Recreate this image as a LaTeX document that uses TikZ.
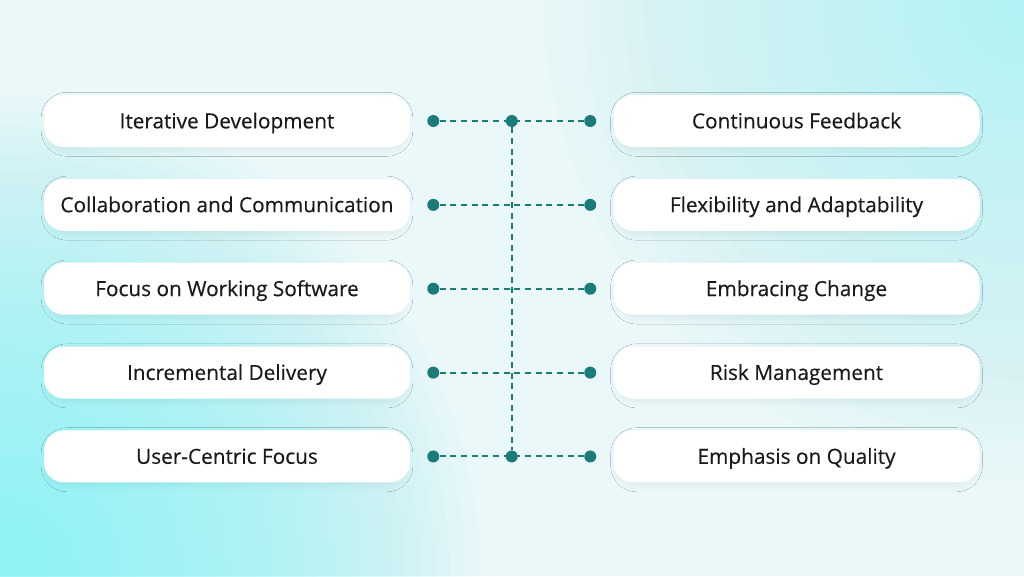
\documentclass[tikz,border=0pt]{standalone}
\usepackage{fontspec}
\setmainfont{Open Sans}
\newfontfamily\pillfont{Open Sans}[FakeBold=0.3]
\usetikzlibrary{calc, positioning, shadows.blur}
\definecolor{agileteal}{HTML}{1B7B78}
\definecolor{bgbase}{HTML}{EAF8F9}
\definecolor{bgcyan}{HTML}{7DF2F4}
\definecolor{inktext}{HTML}{1A1A1A}
\tikzstyle{pill}=[rounded corners=15pt, fill=white, minimum width=274.5pt, minimum height=39pt, inner sep=0pt, text=inktext, text height=14pt, text depth=3pt, font=\pillfont\fontsize{15.6}{18}\selectfont, blur shadow={shadow xshift=0pt, shadow yshift=-2.5pt, shadow blur radius=5pt, shadow blur steps=12, shadow opacity=6, shadow scale=0.98}]
\tikzstyle{dot}=[circle, fill=agileteal, minimum size=9pt, inner sep=0pt]
\tikzstyle{link}=[agileteal, line width=1.5pt, dash pattern=on 4.5pt off 3.5pt]

\begin{document}
\begin{tikzpicture}[x=0.75pt, y=-0.75pt, node distance=23.5pt and 152.25pt]
    \useasboundingbox (0,0) rectangle (1024,576);
    % soft background
    \fill[bgbase] (0,0) rectangle (1024,576);
    \begin{scope}
        \clip (0,0) rectangle (1024,576);
        \foreach \r in {15,30,...,480}
            \fill[bgcyan, opacity=0.045] (0,576) circle (\r);
        \foreach \r in {20,40,...,480}
            \fill[bgcyan, opacity=0.022] (1024,0) circle (\r);
    \end{scope}
    % left column
    \node[pill] (iter) at (227,121) {Iterative Development};
    \node[pill, below=of iter] (collab) {Collaboration and Communication};
    \node[pill, below=of collab] (focus) {Focus on Working Software};
    \node[pill, below=of focus] (incr) {Incremental Delivery};
    \node[pill, below=of incr] (user) {User-Centric Focus};
    % right column
    \node[pill, right=of iter] (feed) {Continuous Feedback};
    \node[pill, right=of collab] (flex) {Flexibility and Adaptability};
    \node[pill, right=of focus] (change) {Embracing Change};
    \node[pill, right=of incr] (risk) {Risk Management};
    \node[pill, right=of user] (quality) {Emphasis on Quality};
    % connectors
    \foreach \l/\r in {iter/feed, collab/flex, focus/change, incr/risk, user/quality} {
        \node[dot, right=17.25pt of \l.east, anchor=center] (\l-dot) {};
        \node[dot, left=17.25pt of \r.west, anchor=center] (\r-dot) {};
        \draw[link] (\l-dot) -- (\r-dot);
    }
    \node[dot] (topmid) at ($(iter-dot)!0.5!(feed-dot)$) {};
    \node[dot] (botmid) at ($(user-dot)!0.5!(quality-dot)$) {};
    \draw[link] (topmid) -- (botmid);
\end{tikzpicture}
\end{document}
